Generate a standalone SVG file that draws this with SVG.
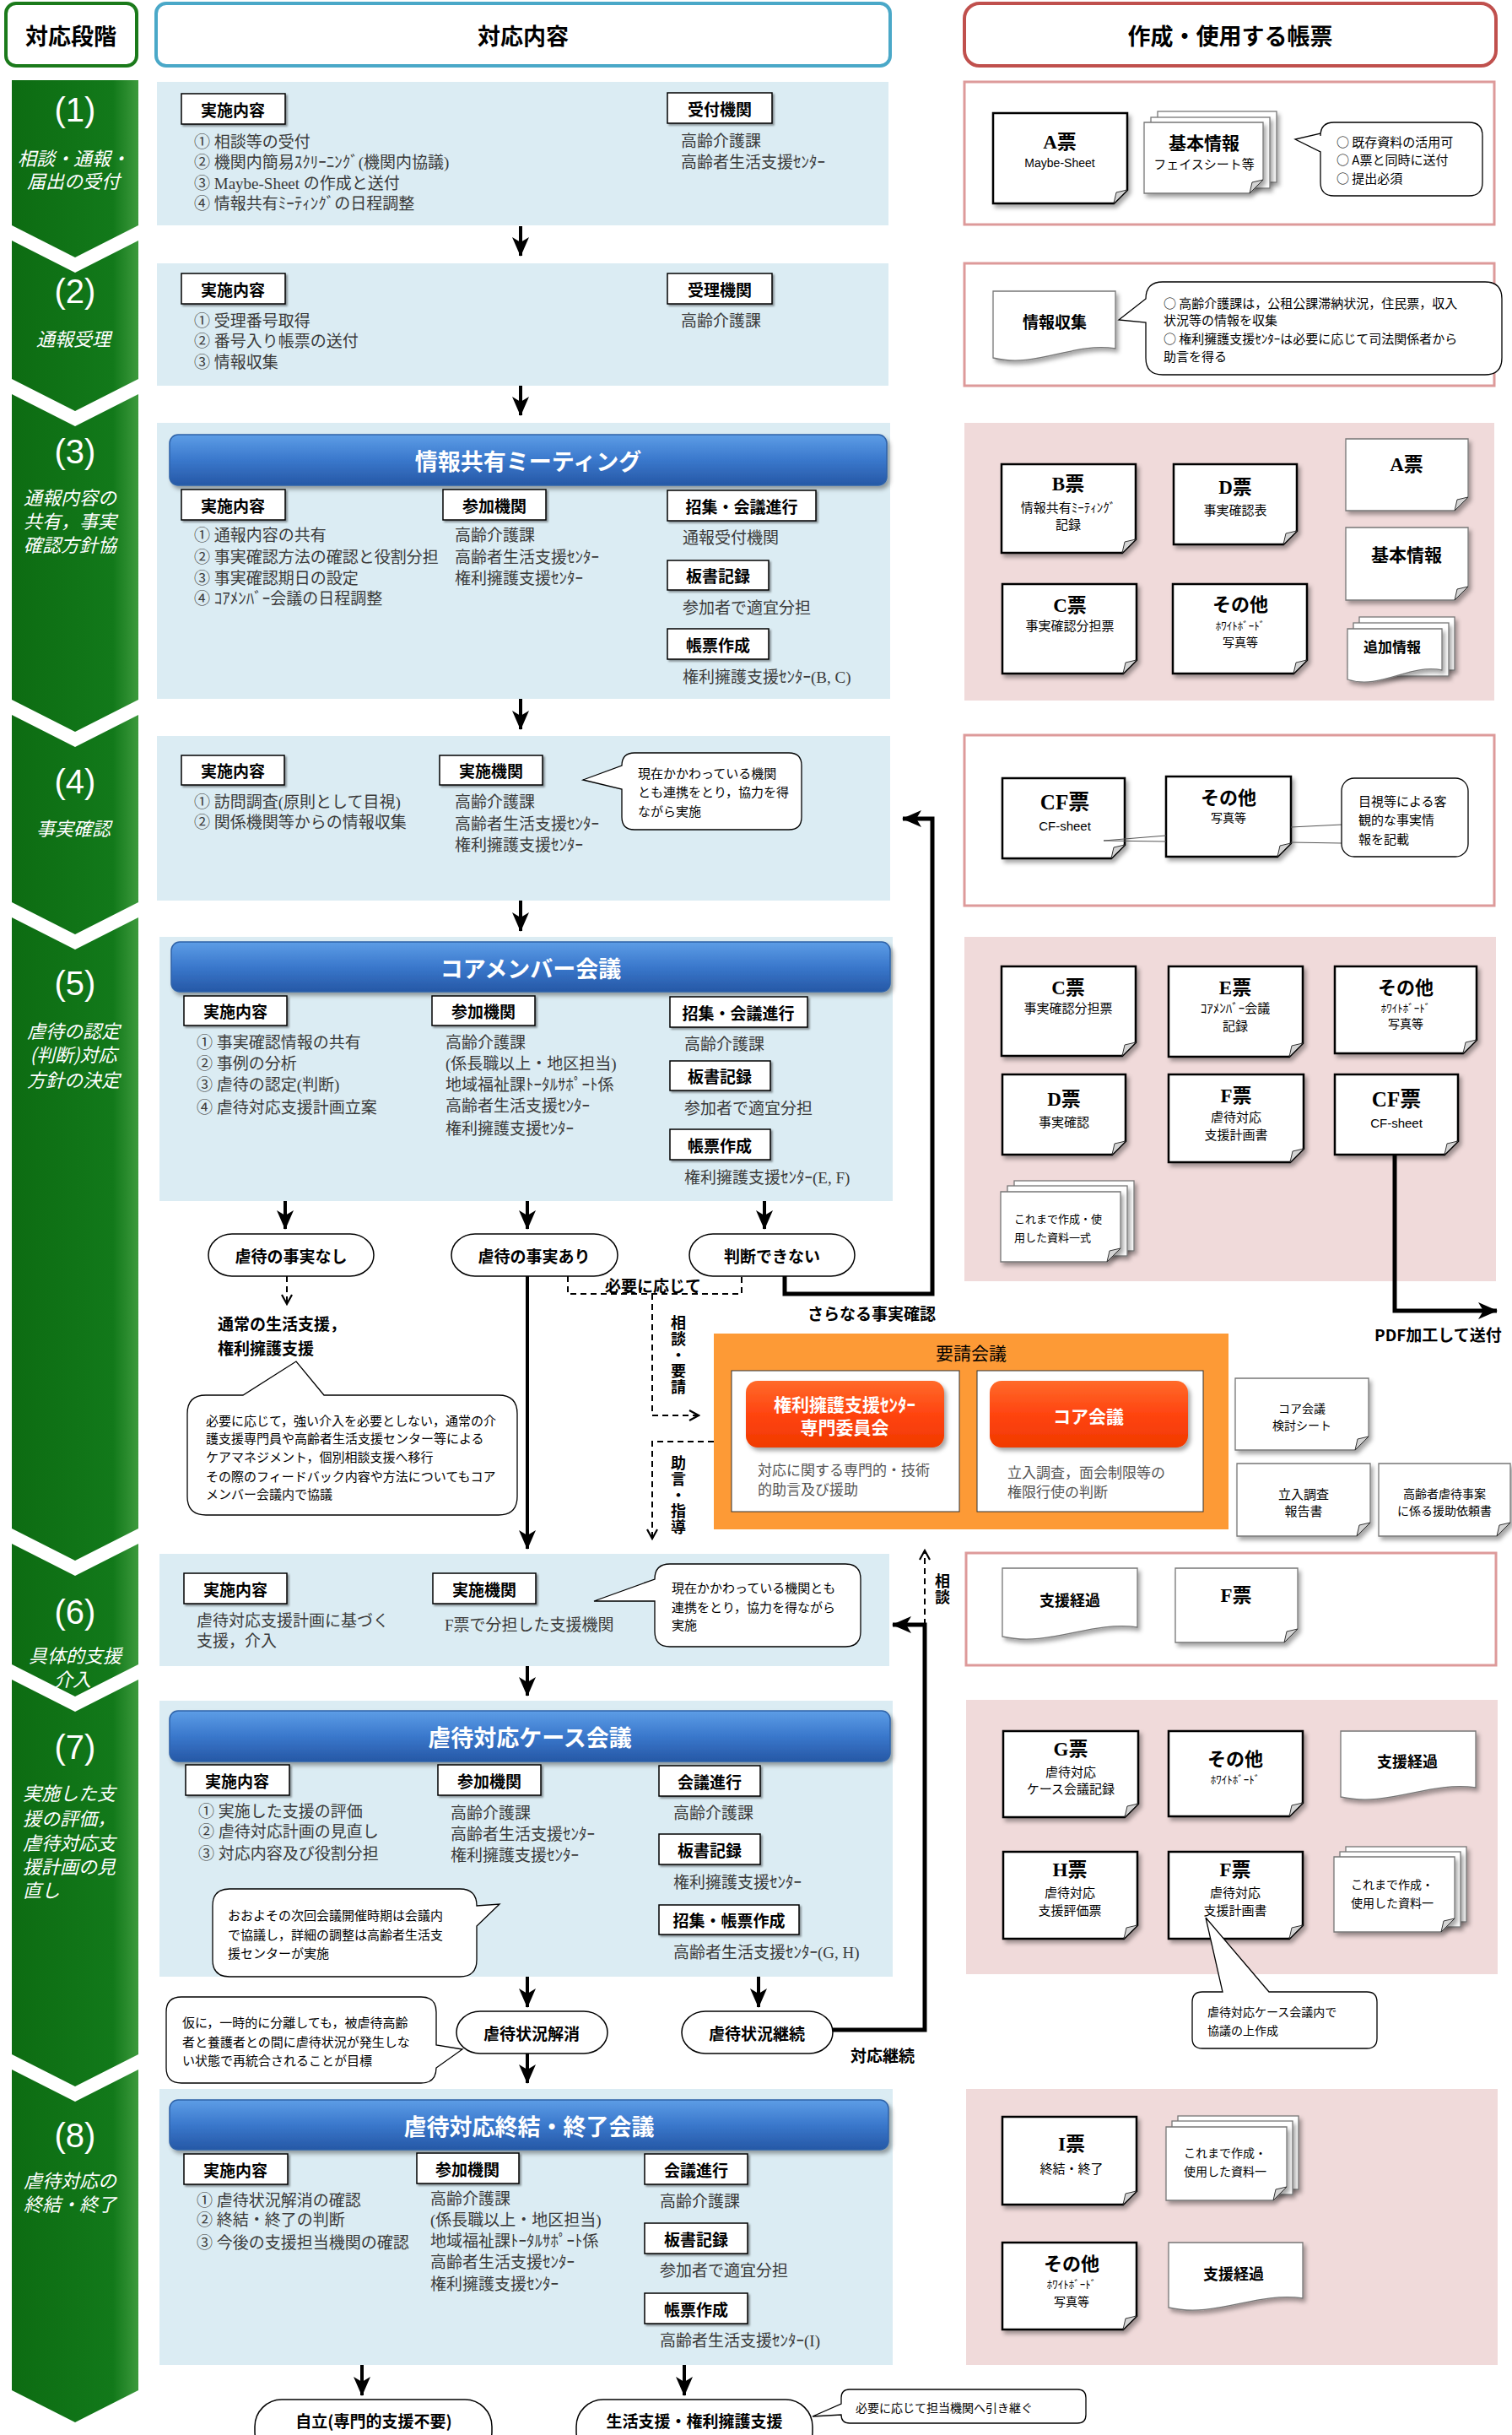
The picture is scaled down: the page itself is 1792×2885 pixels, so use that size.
<svg xmlns="http://www.w3.org/2000/svg" width="1792" height="2885" viewBox="0 0 1792 2885">
<defs>
<filter id="sh" x="-10%" y="-10%" width="130%" height="135%"><feDropShadow dx="3" dy="4" stdDeviation="2.5" flood-color="#000" flood-opacity="0.35"/></filter>
<filter id="ls" x="-10%" y="-10%" width="130%" height="140%"><feDropShadow dx="2" dy="2" stdDeviation="1" flood-color="#000" flood-opacity="0.4"/></filter>
<linearGradient id="gg" x1="0" y1="0" x2="1" y2="0"><stop offset="0" stop-color="#0d6c12"/><stop offset="0.8" stop-color="#12791a"/><stop offset="1" stop-color="#3d9a3d"/></linearGradient>
<linearGradient id="bg" x1="0" y1="0" x2="0" y2="1"><stop offset="0" stop-color="#5d9de6"/><stop offset="0.5" stop-color="#3a78cc"/><stop offset="1" stop-color="#2658a6"/></linearGradient>
<linearGradient id="rg" x1="0" y1="0" x2="0" y2="1"><stop offset="0" stop-color="#ff6a2a"/><stop offset="0.5" stop-color="#ff4410"/><stop offset="1" stop-color="#f03a00"/></linearGradient>
<marker id="ah" markerUnits="userSpaceOnUse" markerWidth="24" markerHeight="22" viewBox="0 0 24 22" refX="22" refY="11" orient="auto"><path d="M0,1 L23,11 L0,21 L6,11 Z" fill="#000"/></marker>
<marker id="ahs" markerUnits="userSpaceOnUse" markerWidth="14" markerHeight="14" viewBox="0 0 14 14" refX="12" refY="7" orient="auto"><path d="M1,1 L12,7 L1,13" fill="none" stroke="#000" stroke-width="2.2"/></marker>
<style>
.pb{fill:#dbecf3}
.pp{fill:#f0dada}
.pw{fill:#fff;stroke:#dd9a9a;stroke-width:3}
.stg{fill:url(#gg)}
.sn{font-family:"Liberation Sans",sans-serif;font-size:40px;fill:#fff;text-anchor:middle;dominant-baseline:central}
.st{font-family:"Noto Sans CJK JP",sans-serif;font-style:italic;font-size:22px;fill:#fff;dominant-baseline:central}
.stc{text-anchor:middle}
.hd{font-family:"Noto Sans CJK JP",sans-serif;font-weight:bold;font-size:27px;text-anchor:middle;dominant-baseline:central}
.lb{fill:#fff;stroke:#000;stroke-width:1.5;filter:url(#ls)}
.lt{font-family:"Noto Sans CJK JP",sans-serif;font-weight:bold;font-size:19px;text-anchor:middle;dominant-baseline:central}
.it{font-family:"Liberation Serif","Noto Sans CJK JP",serif;font-size:19px;fill:#3a3a3a;dominant-baseline:central}
.bar{fill:url(#bg);stroke:#2e62a8;stroke-width:1.5;filter:url(#sh)}
.bt{font-family:"Noto Sans CJK JP",sans-serif;font-weight:bold;font-size:27px;fill:#fff;text-anchor:middle;dominant-baseline:central}
.doc{fill:#fff;stroke:#000;stroke-width:2.5;filter:url(#sh)}
.dl{fill:#fff;stroke:#777;stroke-width:1.3;filter:url(#sh)}
.fd{fill:#d4d4d4;stroke:#333;stroke-width:1}
.dt{font-family:"Liberation Serif","Noto Sans CJK JP",serif;font-weight:bold;font-size:23px;text-anchor:middle;dominant-baseline:central}
.dj{font-family:"Noto Sans CJK JP",sans-serif;font-weight:bold;font-size:21px;text-anchor:middle;dominant-baseline:central}
.ds{font-family:"Noto Sans CJK JP",sans-serif;font-size:14px;text-anchor:middle;dominant-baseline:central}
.bub{fill:#fff;stroke:#000;stroke-width:1.3}
.bx{font-family:"Noto Sans CJK JP",sans-serif;font-size:15px;dominant-baseline:central}
.ar{stroke:#000;stroke-width:4;fill:none;marker-end:url(#ah)}
.tk{stroke:#000;stroke-width:5;fill:none;marker-end:url(#ah)}
.da{stroke:#000;stroke-width:2;stroke-dasharray:7 5;fill:none}
.ov{fill:#fff;stroke:#000;stroke-width:1.5}
.ot{font-family:"Noto Sans CJK JP",sans-serif;font-weight:bold;font-size:19px;text-anchor:middle;dominant-baseline:central}
.bd{font-family:"Noto Sans CJK JP",sans-serif;font-weight:bold;font-size:19px;dominant-baseline:central}
.vv{font-family:"Noto Sans CJK JP",sans-serif;font-weight:bold;font-size:18px;writing-mode:vertical-rl;letter-spacing:1px}
</style>
</defs>
<rect width="1792" height="2885" fill="#fff"/>

<g id="header">
<rect x="7" y="4" width="155" height="74" rx="12" fill="#fff" stroke="#1b7a1b" stroke-width="4"/>
<text class="hd" x="84" y="41">対応段階</text>
<rect x="185" y="4" width="870" height="74" rx="12" fill="#fff" stroke="#4aa8c8" stroke-width="4"/>
<text class="hd" x="620" y="41">対応内容</text>
<rect x="1143" y="4" width="630" height="74" rx="18" fill="#fff" stroke="#c0504d" stroke-width="4"/>
<text class="hd" x="1458" y="41">作成・使用する帳票</text>
</g>

<g id="stages">
<polygon class="stg" points="14,95 164,95 164,267 89,305 14,267"/>
<polygon class="stg" points="14,285 89,323 164,285 164,449 89,487 14,449"/>
<polygon class="stg" points="14,467 89,505 164,467 164,829 89,867 14,829"/>
<polygon class="stg" points="14,847 89,885 164,847 164,1069 89,1107 14,1069"/>
<polygon class="stg" points="14,1087 89,1125 164,1087 164,1811 89,1849 14,1811"/>
<polygon class="stg" points="14,1829 89,1867 164,1829 164,1972 89,2010 14,1972"/>
<polygon class="stg" points="14,1990 89,2028 164,1990 164,2434 89,2472 14,2434"/>
<polygon class="stg" points="14,2452 89,2490 164,2452 164,2832 89,2870 14,2832"/>
<text class="sn" x="89" y="130">(1)</text>
<text class="st stc" x="87" y="186">相談・通報・</text>
<text class="st stc" x="87" y="213">届出の受付</text>
<text class="sn" x="89" y="345">(2)</text>
<text class="st stc" x="87" y="400">通報受理</text>
<text class="sn" x="89" y="535">(3)</text>
<text class="st" x="28" y="588">通報内容の</text>
<text class="st" x="28" y="616">共有，事実</text>
<text class="st" x="28" y="644">確認方針協</text>
<text class="sn" x="89" y="926">(4)</text>
<text class="st stc" x="87" y="980">事実確認</text>
<text class="sn" x="89" y="1165">(5)</text>
<text class="st stc" x="87" y="1220">虐待の認定</text>
<text class="st stc" x="87" y="1248">(判断)対応</text>
<text class="st stc" x="87" y="1278">方針の決定</text>
<text class="sn" x="89" y="1910">(6)</text>
<text class="st stc" x="89" y="1960">具体的支援</text>
<text class="st stc" x="86" y="1988">介入</text>
<text class="sn" x="89" y="2070">(7)</text>
<text class="st" x="27" y="2123">実施した支</text>
<text class="st" x="27" y="2153">援の評価，</text>
<text class="st" x="27" y="2182">虐待対応支</text>
<text class="st" x="27" y="2210">援計画の見</text>
<text class="st" x="27" y="2238">直し</text>
<text class="sn" x="89" y="2530">(8)</text>
<text class="st" x="28" y="2582">虐待対応の</text>
<text class="st" x="28" y="2610">終結・終了</text>
</g>

<g id="stage1-content">
<rect class="pb" x="186" y="97" width="867" height="170"/>
<rect class="lb" x="215" y="111" width="123" height="36"/><text class="lt" x="276" y="129">実施内容</text>
<rect class="lb" x="791" y="110" width="124" height="36"/><text class="lt" x="853" y="128">受付機関</text>
<text class="it" x="230" y="168">① 相談等の受付</text>
<text class="it" x="230" y="192">② 機関内簡易ｽｸﾘｰﾆﾝｸﾞ(機関内協議)</text>
<text class="it" x="230" y="217">③ Maybe-Sheet の作成と送付</text>
<text class="it" x="230" y="241">④ 情報共有ﾐｰﾃｨﾝｸﾞの日程調整</text>
<text class="it" x="807" y="167">高齢介護課</text>
<text class="it" x="807" y="192">高齢者生活支援ｾﾝﾀｰ</text>
</g>

<g id="stage2-content">
<rect class="pb" x="186" y="312" width="867" height="145"/>
<rect class="lb" x="215" y="324" width="123" height="36"/><text class="lt" x="276" y="342">実施内容</text>
<rect class="lb" x="791" y="324" width="124" height="36"/><text class="lt" x="853" y="342">受理機関</text>
<text class="it" x="230" y="380">① 受理番号取得</text>
<text class="it" x="230" y="404">② 番号入り帳票の送付</text>
<text class="it" x="230" y="429">③ 情報収集</text>
<text class="it" x="807" y="380">高齢介護課</text>
</g>

<g id="stage3-content">
<rect class="pb" x="186" y="501" width="869" height="327"/>
<rect class="bar" x="201" y="515" width="850" height="60" rx="10"/>
<text class="bt" x="626" y="545">情報共有ミーティング</text>
<rect class="lb" x="215" y="580" width="123" height="36"/><text class="lt" x="276" y="598">実施内容</text>
<rect class="lb" x="525" y="580" width="122" height="36"/><text class="lt" x="586" y="598">参加機関</text>
<rect class="lb" x="791" y="581" width="176" height="36"/><text class="lt" x="879" y="599">招集・会議進行</text>
<text class="it" x="230" y="634">① 通報内容の共有</text>
<text class="it" x="230" y="660">② 事実確認方法の確認と役割分担</text>
<text class="it" x="230" y="685">③ 事実確認期日の設定</text>
<text class="it" x="230" y="709">④ ｺｱﾒﾝﾊﾞｰ会議の日程調整</text>
<text class="it" x="539" y="634">高齢介護課</text>
<text class="it" x="539" y="660">高齢者生活支援ｾﾝﾀｰ</text>
<text class="it" x="539" y="685">権利擁護支援ｾﾝﾀｰ</text>
<text class="it" x="809" y="637">通報受付機関</text>
<rect class="lb" x="791" y="664" width="120" height="35"/><text class="lt" x="851" y="681">板書記録</text>
<text class="it" x="809" y="720">参加者で適宜分担</text>
<rect class="lb" x="791" y="745" width="120" height="36"/><text class="lt" x="851" y="763">帳票作成</text>
<text class="it" x="809" y="802">権利擁護支援ｾﾝﾀｰ(B, C)</text>
</g>

<g id="stage4-content">
<rect class="pb" x="186" y="872" width="869" height="195"/>
<rect class="lb" x="215" y="895" width="122" height="35"/><text class="lt" x="276" y="912">実施内容</text>
<rect class="lb" x="521" y="895" width="122" height="35"/><text class="lt" x="582" y="912">実施機関</text>
<text class="it" x="230" y="950">① 訪問調査(原則として目視)</text>
<text class="it" x="230" y="974">② 関係機関等からの情報収集</text>
<text class="it" x="539" y="950">高齢介護課</text>
<text class="it" x="539" y="976">高齢者生活支援ｾﾝﾀｰ</text>
<text class="it" x="539" y="1001">権利擁護支援ｾﾝﾀｰ</text>
<path class="bub" d="M752,892 H935 Q950,892 950,907 V968 Q950,983 935,983 H752 Q737,983 737,968 V935 L691,924 L737,907 Q737,892 752,892 Z"/>
<text class="bx" x="756" y="915">現在かかわっている機関</text>
<text class="bx" x="756" y="937">とも連携をとり，協力を得</text>
<text class="bx" x="756" y="960">ながら実施</text>
</g>

<g id="stage5-content">
<rect class="pb" x="189" y="1110" width="869" height="313"/>
<rect class="bar" x="203" y="1116" width="852" height="59" rx="10"/>
<text class="bt" x="629" y="1146">コアメンバー会議</text>
<rect class="lb" x="218" y="1180" width="122" height="35"/><text class="lt" x="279" y="1197">実施内容</text>
<rect class="lb" x="512" y="1180" width="122" height="35"/><text class="lt" x="573" y="1197">参加機関</text>
<rect class="lb" x="794" y="1181" width="163" height="36"/><text class="lt" x="875" y="1199">招集・会議進行</text>
<text class="it" x="233" y="1235">① 事実確認情報の共有</text>
<text class="it" x="233" y="1260">② 事例の分析</text>
<text class="it" x="233" y="1285">③ 虐待の認定(判断)</text>
<text class="it" x="233" y="1312">④ 虐待対応支援計画立案</text>
<text class="it" x="528" y="1235">高齢介護課</text>
<text class="it" x="528" y="1260">(係長職以上・地区担当)</text>
<text class="it" x="528" y="1285">地域福祉課ﾄｰﾀﾙｻﾎﾟｰﾄ係</text>
<text class="it" x="528" y="1310">高齢者生活支援ｾﾝﾀｰ</text>
<text class="it" x="528" y="1337">権利擁護支援ｾﾝﾀｰ</text>
<text class="it" x="811" y="1237">高齢介護課</text>
<rect class="lb" x="794" y="1257" width="119" height="35"/><text class="lt" x="853" y="1274">板書記録</text>
<text class="it" x="811" y="1313">参加者で適宜分担</text>
<rect class="lb" x="794" y="1338" width="119" height="36"/><text class="lt" x="853" y="1356">帳票作成</text>
<text class="it" x="811" y="1395">権利擁護支援ｾﾝﾀｰ(E, F)</text>
</g>

<g id="decisions">
<rect class="ov" x="247" y="1462" width="196" height="50" rx="28"/><text class="ot" x="345" y="1487">虐待の事実なし</text>
<rect class="ov" x="535" y="1462" width="197" height="50" rx="28"/><text class="ot" x="633" y="1487">虐待の事実あり</text>
<rect class="ov" x="817" y="1462" width="196" height="50" rx="28"/><text class="ot" x="915" y="1487">判断できない</text>
<text class="bd" x="258" y="1567">通常の生活支援，</text>
<text class="bd" x="258" y="1596">権利擁護支援</text>
<path class="bub" d="M244,1653 H288 L351,1613 L384,1653 H591 Q613,1653 613,1675 V1773 Q613,1795 591,1795 H244 Q222,1795 222,1773 V1675 Q222,1653 244,1653 Z"/>
<text class="bx" x="244" y="1682">必要に応じて，強い介入を必要としない，通常の介</text>
<text class="bx" x="244" y="1703">護支援専門員や高齢者生活支援センター等による</text>
<text class="bx" x="244" y="1725">ケアマネジメント，個別相談支援へ移行</text>
<text class="bx" x="244" y="1748">その際のフィードバック内容や方法についてもコア</text>
<text class="bx" x="244" y="1769">メンバー会議内で協議</text>
<text class="bd" x="717" y="1522">必要に応じて</text>
<text class="bd" x="957" y="1555">さらなる事実確認</text>
<text class="bd" x="1629" y="1580">PDF加工して送付</text>
<text class="vv" x="804" y="1558">相談・要請</text>
<text class="vv" x="804" y="1724">助言・指導</text>
<text class="vv" x="1117" y="1864">相談</text>
</g>

<g id="request-meeting">
<rect x="846" y="1580" width="610" height="232" fill="#fd9a36"/>
<text x="1151" y="1602" style="font-family:'Noto Sans CJK JP',sans-serif;font-size:21px;text-anchor:middle;dominant-baseline:central">要請会議</text>
<rect x="867" y="1624" width="270" height="167" fill="#fff" stroke="#333" stroke-width="1"/>
<rect x="1158" y="1624" width="268" height="167" fill="#fff" stroke="#333" stroke-width="1"/>
<rect x="884" y="1636" width="235" height="79" rx="14" fill="url(#rg)" filter="url(#sh)"/>
<rect x="1173" y="1636" width="235" height="79" rx="14" fill="url(#rg)" filter="url(#sh)"/>
<text class="bt" x="1001" y="1663" style="font-size:21px">権利擁護支援ｾﾝﾀｰ</text>
<text class="bt" x="1001" y="1690" style="font-size:21px">専門委員会</text>
<text class="bt" x="1290" y="1677" style="font-size:21px">コア会議</text>
<text class="it" x="898" y="1742" style="font-size:17px;fill:#555">対応に関する専門的・技術</text>
<text class="it" x="898" y="1765" style="font-size:17px;fill:#555">的助言及び援助</text>
<text class="it" x="1194" y="1745" style="font-size:17px;fill:#555">立入調査，面会制限等の</text>
<text class="it" x="1194" y="1768" style="font-size:17px;fill:#555">権限行使の判断</text>
</g>

<g id="stage6-content">
<rect class="pb" x="189" y="1841" width="865" height="133"/>
<rect class="lb" x="218" y="1864" width="122" height="36"/><text class="lt" x="279" y="1882">実施内容</text>
<rect class="lb" x="513" y="1864" width="122" height="36"/><text class="lt" x="574" y="1882">実施機関</text>
<text class="it" x="233" y="1920">虐待対応支援計画に基づく</text>
<text class="it" x="233" y="1944">支援，介入</text>
<text class="it" x="527" y="1925">F票で分担した支援機関</text>
<path class="bub" d="M794,1853 H1002 Q1020,1853 1020,1871 V1933 Q1020,1951 1002,1951 H794 Q776,1951 776,1933 V1897 L704,1897 L776,1871 Q776,1853 794,1853 Z"/>
<text class="bx" x="796" y="1880">現在かかわっている機関とも</text>
<text class="bx" x="796" y="1903">連携をとり，協力を得ながら</text>
<text class="bx" x="796" y="1924">実施</text>
</g>

<g id="stage7-content">
<rect class="pb" x="189" y="2015" width="869" height="327"/>
<rect class="bar" x="201" y="2027" width="854" height="60" rx="10"/>
<text class="bt" x="628" y="2057">虐待対応ケース会議</text>
<rect class="lb" x="220" y="2091" width="123" height="36"/><text class="lt" x="281" y="2109">実施内容</text>
<rect class="lb" x="519" y="2091" width="122" height="36"/><text class="lt" x="580" y="2109">参加機関</text>
<rect class="lb" x="781" y="2092" width="120" height="36"/><text class="lt" x="841" y="2110">会議進行</text>
<text class="it" x="235" y="2146">① 実施した支援の評価</text>
<text class="it" x="235" y="2170">② 虐待対応計画の見直し</text>
<text class="it" x="235" y="2196">③ 対応内容及び役割分担</text>
<text class="it" x="534" y="2148">高齢介護課</text>
<text class="it" x="534" y="2173">高齢者生活支援ｾﾝﾀｰ</text>
<text class="it" x="534" y="2198">権利擁護支援ｾﾝﾀｰ</text>
<text class="it" x="798" y="2148">高齢介護課</text>
<rect class="lb" x="781" y="2173" width="120" height="36"/><text class="lt" x="841" y="2191">板書記録</text>
<text class="it" x="798" y="2230">権利擁護支援ｾﾝﾀｰ</text>
<rect class="lb" x="781" y="2257" width="166" height="35"/><text class="lt" x="864" y="2274">招集・帳票作成</text>
<text class="it" x="798" y="2313">高齢者生活支援ｾﾝﾀｰ(G, H)</text>
<path class="bub" d="M272,2238 H545 Q565,2238 565,2258 L592,2256 L565,2282 V2322 Q565,2342 545,2342 H272 Q252,2342 252,2322 V2258 Q252,2238 272,2238 Z"/>
<text class="bx" x="270" y="2268">おおよその次回会議開催時期は会議内</text>
<text class="bx" x="270" y="2291">で協議し，詳細の調整は高齢者生活支</text>
<text class="bx" x="270" y="2313">援センターが実施</text>
<rect class="ov" x="541" y="2383" width="179" height="50" rx="28"/><text class="ot" x="630" y="2408">虐待状況解消</text>
<rect class="ov" x="808" y="2383" width="179" height="50" rx="28"/><text class="ot" x="897" y="2408">虐待状況継続</text>
<path class="bub" d="M215,2366 H499 Q517,2366 517,2384 V2423 L548,2428 L517,2450 Q517,2468 499,2468 H215 Q197,2468 197,2450 V2384 Q197,2366 215,2366 Z"/>
<text class="bx" x="216" y="2395">仮に，一時的に分離しても，被虐待高齢</text>
<text class="bx" x="216" y="2418">者と養護者との間に虐待状況が発生しな</text>
<text class="bx" x="216" y="2440">い状態で再統合されることが目標</text>
<text class="bd" x="1008" y="2434">対応継続</text>
</g>

<g id="stage8-content">
<rect class="pb" x="189" y="2475" width="869" height="327"/>
<rect class="bar" x="201" y="2488" width="852" height="59" rx="10"/>
<text class="bt" x="627" y="2518">虐待対応終結・終了会議</text>
<rect class="lb" x="218" y="2552" width="123" height="36"/><text class="lt" x="279" y="2570">実施内容</text>
<rect class="lb" x="494" y="2551" width="121" height="36"/><text class="lt" x="554" y="2569">参加機関</text>
<rect class="lb" x="764" y="2552" width="122" height="36"/><text class="lt" x="825" y="2570">会議進行</text>
<text class="it" x="233" y="2607">① 虐待状況解消の確認</text>
<text class="it" x="233" y="2630">② 終結・終了の判断</text>
<text class="it" x="233" y="2657">③ 今後の支援担当機関の確認</text>
<text class="it" x="510" y="2605">高齢介護課</text>
<text class="it" x="510" y="2630">(係長職以上・地区担当)</text>
<text class="it" x="510" y="2655">地域福祉課ﾄｰﾀﾙｻﾎﾟｰﾄ係</text>
<text class="it" x="510" y="2680">高齢者生活支援ｾﾝﾀｰ</text>
<text class="it" x="510" y="2706">権利擁護支援ｾﾝﾀｰ</text>
<text class="it" x="782" y="2608">高齢介護課</text>
<rect class="lb" x="764" y="2634" width="122" height="36"/><text class="lt" x="825" y="2652">板書記録</text>
<text class="it" x="782" y="2690">参加者で適宜分担</text>
<rect class="lb" x="764" y="2717" width="122" height="36"/><text class="lt" x="825" y="2735">帳票作成</text>
<text class="it" x="782" y="2773">高齢者生活支援ｾﾝﾀｰ(I)</text>
<rect class="ov" x="302" y="2843" width="281" height="70" rx="32"/><text class="ot" x="443" y="2867">自立(専門的支援不要)</text>
<rect class="ov" x="683" y="2843" width="280" height="70" rx="32"/><text class="ot" x="823" y="2867">生活支援・権利擁護支援</text>
<path class="bub" d="M1007,2831 H1277 Q1287,2831 1287,2841 V2861 Q1287,2871 1277,2871 H1007 Q997,2871 997,2861 L963,2863 L997,2848 V2841 Q997,2831 1007,2831 Z"/>
<text class="bx" x="1014" y="2852" style="font-size:14px">必要に応じて担当機関へ引き継ぐ</text>
</g>

<g id="forms-stage1">
<rect class="pw" x="1143" y="97" width="628" height="169"/>
<path class="doc" d="M1177,134 h159 v91 l-16,16 H1177 Z"/><path class="fd" d="M1336,225 l-16,16 l3,-13 z"/>
<text class="dt" x="1256" y="168">A票</text>
<text class="ds" x="1256" y="193" style="font-family:'Liberation Sans',sans-serif">Maybe-Sheet</text>
<rect class="dl" x="1372" y="132" width="141" height="84"/>
<rect class="dl" x="1364" y="139" width="141" height="84"/>
<path class="dl" d="M1356,145 h141 v68 l-16,16 H1356 Z"/><path class="fd" d="M1497,213 l-16,16 l3,-13 z"/>
<text class="dj" x="1427" y="168">基本情報</text>
<text class="ds" x="1427" y="193" style="font-size:15px">フェイスシート等</text>
<path class="bub" d="M1581,145 H1741 Q1757,145 1757,161 V216 Q1757,232 1741,232 H1581 Q1565,232 1565,216 V180 L1535,165 L1565,158 V161 Q1565,145 1581,145 Z"/>
<text class="bx" x="1584" y="167">○ 既存資料の活用可</text>
<text class="bx" x="1584" y="188">○ A票と同時に送付</text>
<text class="bx" x="1584" y="210">○ 提出必須</text>
</g>

<g id="forms-stage2">
<rect class="pw" x="1143" y="312" width="628" height="145"/>
<path class="dl" d="M1177,345 h145 v68 C1271,405 1228,437 1177,424 Z"/>
<text class="dj" x="1250" y="380" style="font-size:19px">情報収集</text>
<path class="bub" d="M1378,334 H1760 Q1780,334 1780,354 V424 Q1780,444 1760,444 H1378 Q1358,444 1358,424 V382 L1326,379 L1358,354 Q1358,334 1378,334 Z"/>
<text class="bx" x="1379" y="358">○ 高齢介護課は，公租公課滞納状況，住民票，収入</text>
<text class="bx" x="1379" y="378">状況等の情報を収集</text>
<text class="bx" x="1379" y="400">○ 権利擁護支援ｾﾝﾀｰは必要に応じて司法関係者から</text>
<text class="bx" x="1379" y="421">助言を得る</text>
</g>

<g id="forms-stage3">
<rect class="pp" x="1143" y="501" width="628" height="329"/>
<path class="doc" d="M1187,550 h159 v89 l-16,16 H1187 Z"/><path class="fd" d="M1346,639 l-16,16 l3,-13 z"/>
<text class="dt" x="1266" y="573">B票</text>
<text class="ds" x="1266" y="600" style="font-size:15px">情報共有ﾐｰﾃｨﾝｸﾞ</text>
<text class="ds" x="1266" y="620" style="font-size:15px">記録</text>
<path class="doc" d="M1391,550 h146 v79 l-16,16 H1391 Z"/><path class="fd" d="M1537,629 l-16,16 l3,-13 z"/>
<text class="dt" x="1464" y="577">D票</text>
<text class="ds" x="1464" y="603" style="font-size:15px">事実確認表</text>
<path class="dl" d="M1595,520 h145 v69 l-16,16 H1595 Z"/><path class="fd" d="M1740,589 l-16,16 l3,-13 z"/>
<text class="dt" x="1667" y="550">A票</text>
<path class="dl" d="M1595,625 h145 v70 l-16,16 H1595 Z"/><path class="fd" d="M1740,695 l-16,16 l3,-13 z"/>
<text class="dj" x="1667" y="656">基本情報</text>
<path class="doc" d="M1188,692 h159 v90 l-16,16 H1188 Z"/><path class="fd" d="M1347,782 l-16,16 l3,-13 z"/>
<text class="dt" x="1268" y="717">C票</text>
<text class="ds" x="1268" y="740" style="font-size:15px">事実確認分担票</text>
<path class="doc" d="M1390,692 h159 v90 l-16,16 H1390 Z"/><path class="fd" d="M1549,782 l-16,16 l3,-13 z"/>
<text class="dj" x="1470" y="714" style="font-size:22px">その他</text>
<text class="ds" x="1470" y="740" style="font-size:13px">ﾎﾜｲﾄﾎﾞｰﾄﾞ</text>
<text class="ds" x="1470" y="760">写真等</text>
<rect class="dl" x="1611" y="731" width="113" height="63"/>
<rect class="dl" x="1604" y="738" width="113" height="63"/>
<path class="dl" d="M1597,745 h112 v49 C1670,786 1636,818 1597,805 Z"/>
<text class="dj" x="1650" y="765" style="font-size:17px">追加情報</text>
</g>

<g id="forms-stage4">
<rect class="pw" x="1143" y="871" width="628" height="202"/>
<path class="doc" d="M1188,922 h145 v79 l-16,16 H1188 Z"/><path class="fd" d="M1333,1001 l-16,16 l3,-13 z"/>
<text class="dt" x="1262" y="950" style="font-size:25px">CF票</text>
<text class="ds" x="1262" y="978" style="font-family:'Liberation Sans',sans-serif;font-size:15px">CF-sheet</text>
<path class="doc" d="M1382,920 h148 v79 l-16,16 H1382 Z"/><path class="fd" d="M1530,999 l-16,16 l3,-13 z"/>
<text class="dj" x="1456" y="943" style="font-size:22px">その他</text>
<text class="ds" x="1456" y="968">写真等</text>
<path d="M1308,996 L1382,990 M1308,996 L1382,997 M1530,980 L1590,977 M1530,998 L1590,999" stroke="#555" stroke-width="1" fill="none"/>
<rect class="bub" x="1590" y="922" width="150" height="93" rx="15"/>
<text class="bx" x="1610" y="948">目視等による客</text>
<text class="bx" x="1610" y="970">観的な事実情</text>
<text class="bx" x="1610" y="993">報を記載</text>
</g>

<g id="forms-stage5">
<rect class="pp" x="1143" y="1110" width="630" height="408"/>
<path class="doc" d="M1187,1145 h159 v90 l-16,16 H1187 Z"/><path class="fd" d="M1346,1235 l-16,16 l3,-13 z"/>
<text class="dt" x="1266" y="1170">C票</text>
<text class="ds" x="1266" y="1193" style="font-size:15px">事実確認分担票</text>
<path class="doc" d="M1385,1145 h159 v91 l-16,16 H1385 Z"/><path class="fd" d="M1544,1236 l-16,16 l3,-13 z"/>
<text class="dt" x="1464" y="1170">E票</text>
<text class="ds" x="1464" y="1193" style="font-size:15px">ｺｱﾒﾝﾊﾞｰ会議</text>
<text class="ds" x="1464" y="1214" style="font-size:15px">記録</text>
<path class="doc" d="M1582,1145 h168 v87 l-16,16 H1582 Z"/><path class="fd" d="M1750,1232 l-16,16 l3,-13 z"/>
<text class="dj" x="1666" y="1168" style="font-size:22px">その他</text>
<text class="ds" x="1666" y="1193" style="font-size:13px">ﾎﾜｲﾄﾎﾞｰﾄﾞ</text>
<text class="ds" x="1666" y="1212">写真等</text>
<path class="doc" d="M1188,1273 h146 v79 l-16,16 H1188 Z"/><path class="fd" d="M1334,1352 l-16,16 l3,-13 z"/>
<text class="dt" x="1261" y="1302">D票</text>
<text class="ds" x="1261" y="1328" style="font-size:15px">事実確認</text>
<path class="doc" d="M1385,1273 h160 v88 l-16,16 H1385 Z"/><path class="fd" d="M1545,1361 l-16,16 l3,-13 z"/>
<text class="dt" x="1465" y="1298">F票</text>
<text class="ds" x="1465" y="1322" style="font-size:15px">虐待対応</text>
<text class="ds" x="1465" y="1343" style="font-size:15px">支援計画書</text>
<path class="doc" d="M1582,1273 h146 v79 l-16,16 H1582 Z"/><path class="fd" d="M1728,1352 l-16,16 l3,-13 z"/>
<text class="dt" x="1655" y="1302" style="font-size:25px">CF票</text>
<text class="ds" x="1655" y="1330" style="font-family:'Liberation Sans',sans-serif;font-size:15px">CF-sheet</text>
<rect class="dl" x="1202" y="1399" width="142" height="83"/>
<rect class="dl" x="1194" y="1405" width="142" height="83"/>
<path class="dl" d="M1186,1412 h142 v67 l-16,16 H1186 Z"/><path class="fd" d="M1328,1479 l-16,16 l3,-13 z"/>
<text class="bx" x="1202" y="1443" style="font-size:13px">これまで作成・使</text>
<text class="bx" x="1202" y="1465" style="font-size:13px">用した資料一式</text>
</g>

<g id="forms-request">
<path class="dl" d="M1464,1633 h158 v69 l-16,16 H1464 Z"/><path class="fd" d="M1622,1702 l-16,16 l3,-13 z"/>
<text class="ds" x="1543" y="1668">コア会議</text>
<text class="ds" x="1543" y="1688">検討シート</text>
<path class="dl" d="M1466,1734 h158 v70 l-16,16 H1466 Z"/><path class="fd" d="M1624,1804 l-16,16 l3,-13 z"/>
<text class="ds" x="1545" y="1769" style="font-size:15px">立入調査</text>
<text class="ds" x="1545" y="1789" style="font-size:15px">報告書</text>
<path class="dl" d="M1634,1734 h156 v70 l-16,16 H1634 Z"/><path class="fd" d="M1790,1804 l-16,16 l3,-13 z"/>
<text class="ds" x="1712" y="1769">高齢者虐待事案</text>
<text class="ds" x="1712" y="1789">に係る援助依頼書</text>
</g>

<g id="forms-stage6">
<rect class="pw" x="1145" y="1840" width="628" height="133"/>
<path class="dl" d="M1188,1858 h160 v70 C1292,1920 1244,1952 1188,1939 Z"/>
<text class="dj" x="1268" y="1895" style="font-size:18px">支援経過</text>
<path class="dl" d="M1393,1858 h145 v72 l-16,16 H1393 Z"/><path class="fd" d="M1538,1930 l-16,16 l3,-13 z"/>
<text class="dt" x="1465" y="1890">F票</text>
</g>

<g id="forms-stage7">
<rect class="pp" x="1145" y="2014" width="630" height="325"/>
<path class="doc" d="M1189,2051 h160 v86 l-16,16 H1189 Z"/><path class="fd" d="M1349,2137 l-16,16 l3,-13 z"/>
<text class="dt" x="1269" y="2072">G票</text>
<text class="ds" x="1269" y="2098" style="font-size:15px">虐待対応</text>
<text class="ds" x="1269" y="2118" style="font-size:15px">ケース会議記録</text>
<path class="doc" d="M1385,2051 h159 v85 l-16,16 H1385 Z"/><path class="fd" d="M1544,2136 l-16,16 l3,-13 z"/>
<text class="dj" x="1464" y="2082" style="font-size:22px">その他</text>
<text class="ds" x="1464" y="2107" style="font-size:13px">ﾎﾜｲﾄﾎﾞｰﾄﾞ</text>
<path class="dl" d="M1589,2051 h160 v67 C1693,2110 1645,2142 1589,2129 Z"/>
<text class="dj" x="1668" y="2086" style="font-size:18px">支援経過</text>
<path class="doc" d="M1189,2194 h159 v87 l-16,16 H1189 Z"/><path class="fd" d="M1348,2281 l-16,16 l3,-13 z"/>
<text class="dt" x="1268" y="2215">H票</text>
<text class="ds" x="1268" y="2241" style="font-size:15px">虐待対応</text>
<text class="ds" x="1268" y="2262" style="font-size:15px">支援評価票</text>
<path class="doc" d="M1385,2194 h159 v87 l-16,16 H1385 Z"/><path class="fd" d="M1544,2281 l-16,16 l3,-13 z"/>
<text class="dt" x="1464" y="2215">F票</text>
<text class="ds" x="1464" y="2241" style="font-size:15px">虐待対応</text>
<text class="ds" x="1464" y="2262" style="font-size:15px">支援計画書</text>
<rect class="dl" x="1595" y="2188" width="143" height="89"/>
<rect class="dl" x="1588" y="2194" width="143" height="89"/>
<path class="dl" d="M1581,2200 h143 v73 l-16,16 H1581 Z"/><path class="fd" d="M1724,2273 l-16,16 l3,-13 z"/>
<text class="ds" x="1650" y="2232" style="font-size:14px">これまで作成・</text>
<text class="ds" x="1650" y="2254" style="font-size:14px">使用した資料一</text>
<path class="bub" d="M1425,2360 H1449 L1429,2272 L1504,2360 H1620 Q1632,2360 1632,2372 V2415 Q1632,2427 1620,2427 H1425 Q1413,2427 1413,2415 V2372 Q1413,2360 1425,2360 Z"/>
<text class="bx" x="1431" y="2383" style="font-size:14px">虐待対応ケース会議内で</text>
<text class="bx" x="1431" y="2405" style="font-size:14px">協議の上作成</text>
</g>

<g id="forms-stage8">
<rect class="pp" x="1145" y="2475" width="630" height="327"/>
<path class="doc" d="M1188,2508 h159 v88 l-16,16 H1188 Z"/><path class="fd" d="M1347,2596 l-16,16 l3,-13 z"/>
<text class="dt" x="1270" y="2540">I票</text>
<text class="ds" x="1270" y="2568" style="font-size:15px">終結・終了</text>
<rect class="dl" x="1396" y="2507" width="143" height="87"/>
<rect class="dl" x="1389" y="2513" width="143" height="87"/>
<path class="dl" d="M1382,2520 h143 v71 l-16,16 H1382 Z"/><path class="fd" d="M1525,2591 l-16,16 l3,-13 z"/>
<text class="ds" x="1452" y="2550" style="font-size:14px">これまで作成・</text>
<text class="ds" x="1452" y="2572" style="font-size:14px">使用した資料一</text>
<path class="doc" d="M1188,2657 h159 v87 l-16,16 H1188 Z"/><path class="fd" d="M1347,2744 l-16,16 l3,-13 z"/>
<text class="dj" x="1270" y="2680" style="font-size:22px">その他</text>
<text class="ds" x="1270" y="2705" style="font-size:13px">ﾎﾜｲﾄﾎﾞｰﾄﾞ</text>
<text class="ds" x="1270" y="2726">写真等</text>
<path class="dl" d="M1385,2657 h159 v66 C1488,2715 1441,2747 1385,2734 Z"/>
<text class="dj" x="1462" y="2693" style="font-size:18px">支援経過</text>
</g>

<g id="connectors">
<path class="ar" d="M617,268 V303"/>
<path class="ar" d="M617,457 V492"/>
<path class="ar" d="M617,828 V864"/>
<path class="ar" d="M617,1067 V1103"/>
<path class="ar" d="M338,1423 V1456"/>
<path class="ar" d="M625,1423 V1456"/>
<path class="ar" d="M906,1423 V1456"/>
<path class="ar" d="M625,1512 V1835"/>
<path class="ar" d="M625,1974 V2009"/>
<path class="ar" d="M625,2342 V2378"/>
<path class="ar" d="M899,2342 V2378"/>
<path class="ar" d="M625,2433 V2468"/>
<path class="ar" d="M429,2802 V2838"/>
<path class="ar" d="M811,2802 V2838"/>
<path class="tk" d="M930,1512 V1533 H1105 V970 H1070"/>
<path class="tk" d="M987,2405 H1096 V1925 H1058"/>
<path class="tk" d="M1653,1368 V1553 H1774"/>
<path class="da" d="M340,1512 V1545" marker-end="url(#ahs)"/>
<path class="da" d="M673,1512 V1533 H879 V1512"/>
<path class="da" d="M773,1533 V1677 H828" marker-end="url(#ahs)"/>
<path class="da" d="M846,1708 H773 V1823" marker-end="url(#ahs)"/>
<path class="da" d="M1096,1925 V1837" marker-end="url(#ahs)"/>
</g>
</svg>
